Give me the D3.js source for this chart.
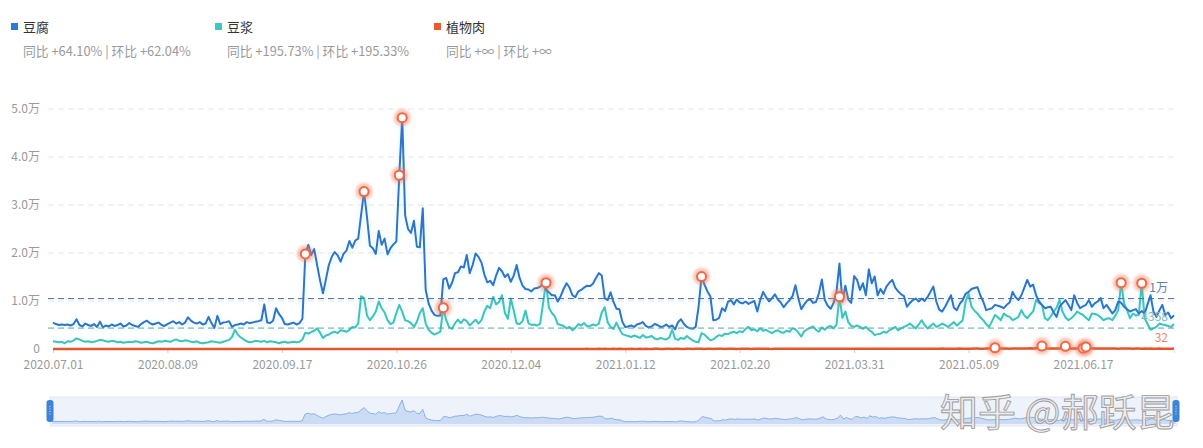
<!DOCTYPE html>
<html>
<head>
<meta charset="utf-8">
<script src="https://cdn.jsdelivr.net/npm/d3@7"></script>
<style>
  body { margin: 0; background: #fff; }
  svg { display: block; font-family: "Noto Sans CJK SC", "Noto Sans", sans-serif; }
</style>
</head>
<body>
<div id="chart"></div>
<script>
var startDate = '2020.07.01'

var tofu = [
  5500,5200,5000,5100,5000,5100,4900,5200,6200,5000,
  4700,5300,5000,4800,5200,4600,5700,4500,4900,4700,
  5100,4800,5000,5300,4700,4900,5400,5000,4800,4600,
  5200,5600,5900,5400,5100,5300,5500,5000,4800,5200,
  5500,5800,5300,5600,5100,5500,6600,5900,5500,5300,
  5600,5100,5300,6700,5400,4400,6900,5200,5500,5600,
  5800,4600,5000,5100,5300,5100,5600,5400,5500,5700,
  5800,6000,9300,5500,5400,5900,8500,7300,6500,5200,
  5100,5300,5500,5100,5400,6300,19800,21700,19600,20800,
  17500,14300,11600,14500,17500,19200,20200,19500,18200,19800,
  20500,22500,21100,22600,23000,28000,32800,27500,21500,21000,
  19800,24600,21700,23000,19700,21000,21800,22400,36200,48200,
  27800,25000,24200,26700,21300,21200,29300,12300,9500,8000,
  7100,6900,7000,14500,14800,12600,13800,15800,16000,17200,
  17000,19600,15800,17500,19900,19200,18000,15500,13900,14200,
  13300,15300,16900,16200,15000,15600,14000,15300,17500,14800,
  13200,12500,12400,12000,12600,12700,13000,13600,12400,11800,
  11200,11200,9900,11000,12500,13700,12800,11200,10800,12000,
  12300,12800,13200,13100,13600,14800,15800,15300,10600,10200,
  11800,9800,8400,8300,5700,4600,4700,4900,4600,5100,
  5300,5600,4800,4500,4700,5200,5000,4600,4700,5100,
  4600,4900,4100,5600,6200,5200,4600,4300,4200,4600,
  8800,15100,13400,12000,11000,6000,6100,6500,8500,7900,
  9800,10200,9300,10300,9700,9500,9900,9400,9700,10000,
  7800,10200,11900,10800,9900,10600,11400,10300,9700,8700,
  9500,10200,11000,13300,10500,8300,9300,10100,10400,9600,
  9800,11600,14500,10200,9000,8400,9600,12000,17800,9900,
  13200,10300,9600,15200,14400,12300,13700,11200,16600,13700,
  15100,11200,12500,11500,13000,13800,14400,12800,12000,11400,
  11000,8800,9600,10200,10500,9900,10500,10000,10800,11900,
  13000,9900,8200,7800,8800,10000,11200,8600,8100,9400,
  10200,11500,11900,12500,12700,12900,11200,9900,8100,8300,
  8500,9200,9000,8800,8500,9200,9700,11900,10800,10200,
  11200,12800,14400,13000,13400,11200,9900,9200,8500,8700,
  8800,7600,6700,8800,9500,10200,9200,8100,11200,9600,
  8500,8900,9200,10200,8800,9500,9900,10600,8500,9200,
  8300,7400,8100,9900,9600,8800,8300,7800,8100,8300,
  7400,7900,7400,9300,11200,7800,6700,8000,9200,7100,
  7600,6400,7000
]

var soyMilk = [
  1600,1500,1400,1500,1200,1600,1500,1800,2200,2000,
  1700,1500,1600,1400,1500,1700,1900,1800,1600,1500,
  1700,1600,1400,1500,1300,1400,1500,1400,1600,1500,
  1300,1400,1500,1300,1200,1400,1600,1500,1700,1600,
  1500,1800,2000,1700,1600,1800,1700,1500,1400,1600,
  1300,1200,1300,1400,1600,1500,1400,1300,1500,1700,
  1900,2500,4000,3000,2400,2000,1600,1400,1500,1700,
  1600,1500,1700,1400,1600,1500,1400,1200,1400,1500,
  1300,1400,1500,1400,1500,2000,3400,3200,3500,3800,
  4300,3400,2300,2800,3000,3400,3600,3300,3900,3800,
  3600,4000,4600,4500,5300,11000,10600,7000,6000,6800,
  7800,9900,8500,7600,6000,5200,5500,7500,9200,7800,
  6000,5800,5400,4600,5700,7500,8500,5300,4000,3400,
  3000,3300,3600,8600,6000,4500,4200,5400,6100,5400,
  6200,5800,4900,5500,6100,5300,6000,7800,9000,8500,
  10900,9300,9800,11200,7500,6300,10500,8000,5300,5200,
  5800,8000,5400,5000,5100,4900,5300,9500,13800,8600,
  7500,6800,5200,5000,4800,4300,4600,3900,4400,5200,
  4900,5400,4700,4800,5100,4900,5300,7600,8700,5600,
  4600,4200,5500,4200,3100,2900,2700,2500,2800,2600,
  2300,2900,2400,2500,2700,2200,2000,2300,2100,2000,
  2400,4000,2100,1900,2300,2100,2700,2200,1800,1500,
  1400,3300,3000,2400,1800,2000,2500,2900,2700,3200,
  3100,3400,3600,3300,3700,3500,4200,4600,3900,4100,
  3700,4300,3800,4000,3600,3300,3700,3900,3500,3400,
  3800,3600,4300,4100,3400,2600,3700,4100,4400,4700,
  4000,3600,4500,4000,4600,4800,4300,5100,10900,6500,
  7800,5600,4800,4600,4900,4600,4200,4600,4000,3600,
  2900,3100,3200,3600,3400,3900,4200,4600,3900,4300,
  4600,4900,5300,4800,4300,5100,6000,5000,4300,4800,
  5300,4600,4900,5300,5000,4600,5100,5600,4900,5400,
  6000,9900,11500,8800,8000,7400,6600,6000,5200,4600,
  5800,7100,6600,6000,7400,6900,6700,6000,6300,6700,
  8100,7000,6400,7200,7800,10200,9600,9200,6400,6000,
  6800,7800,8600,10200,7800,6600,6000,6400,7000,7800,
  7400,7100,6500,6000,7400,7300,7100,6600,6000,6300,
  6400,6000,7000,8100,13800,9500,8100,6400,7400,7000,
  7100,13700,6400,5200,4000,4300,4600,5300,5100,5000,
  4800,4600,5200
]

var plantMeat = [
  0,0,0,0,0,0,0,0,0,0, 0,0,0,0,0,0,0,0,0,0,
  0,0,0,0,0,0,0,0,0,0, 0,0,0,0,0,0,0,0,0,0,
  0,0,0,0,0,0,0,0,0,0, 0,0,0,0,0,0,0,0,0,0,
  0,0,0,0,0,0,0,0,0,0, 0,0,0,0,0,0,0,0,0,0,
  0,0,0,0,0,0,0,0,0,0, 0,0,0,0,0,0,0,0,0,0,
  0,0,0,0,0,0,0,0,0,0, 0,0,0,0,0,0,0,0,0,0,
  0,0,0,0,0,0,0,0,0,0, 0,0,0,0,0,0,0,0,0,0,
  0,0,0,0,0,0,0,0,0,0, 0,0,0,0,0,0,0,0,0,0,
  0,0,0,0,0,0,0,0,0,0, 0,0,0,0,0,0,0,0,0,0,
  20,0,30,10,0,20,40,10,30,20,
  10,30,20,40,10,0,20,30,10,20,
  30,20,40,10,20,30,50,20,10,30,
  40,20,30,50,20,10,30,40,20,30,
  50,30,20,40,30,20,50,40,30,20,
  40,30,50,20,30,60,40,30,20,40,
  50,30,40,60,30,20,40,50,30,40,
  60,40,30,50,40,30,60,50,40,30,
  50,40,60,30,40,50,70,40,30,50,
  60,40,50,30,40,60,50,40,70,50,
  40,60,50,30,50,70,40,60,50,40,
  60,50,40,70,50,60,40,50,70,60,
  50,40,60,80,50,60,70,50,60,80,
  60,50,70,60,80,90,70,60,80,100,
  120,260,110,90,80,100,70,90,110,80,
  90,100,120,140,130,150,160,620,180,120,
  110,90,100,120,140,560,120,100,90,110,
  130,180,420,140,100,90,80,100,110,90,
  80,100,90,70,80,90,100,80,70,90,
  80,70,90,60,80,70,60,80,70,60,
  70,60,80
]

var seriesNames = ['豆腐', '豆浆', '植物肉']
var yoyText = ['+64.10%', '+195.73%', '+∞']
var momText = ['+62.04%', '+195.33%', '+∞']
var avgValues = [10500, 4358, 32]
var avgLabels = ['1万', '4358', '32']
var tofuMarks = ['2020.09.25', '2020.10.15', '2020.10.27', '2020.10.28', '2021.02.07']
var soyMarks = ['2020.11.11', '2020.12.16', '2021.03.26', '2021.06.30', '2021.07.07']
var meatMarks = ['2021.05.18', '2021.06.03', '2021.06.11', '2021.06.17', '2021.06.18']
var yTicks = [0, 10000, 20000, 30000, 40000, 50000]
var xLabelEvery = 39

var colors = ['#2f74c9', '#3ec3bb', '#e6562d']
var legendColors = ['#2d7bd4', '#3fc6c3', '#ea5a2f']
var avgColors = ['#40709f', '#5fa5a1', '#e6562d']
var avgTextColors = ['#5a7fa6', '#8ab7b4', '#e8866a']

var W = 1203, H = 448
var parse = d3.timeParse('%Y.%m.%d')
var fmt = d3.timeFormat('%Y.%m.%d')
var start = parse(startDate)
var dates = tofu.map(function (d, i) { return d3.timeDay.offset(start, i) })
var series = [tofu, soyMilk, plantMeat]

var svg = d3.select('#chart').append('svg').attr('width', W).attr('height', H)

var x = d3.scaleTime().domain([dates[0], dates[dates.length - 1]]).range([53, 1174])
var y = d3.scaleLinear().domain([0, 50000]).range([349, 109])

// legend
var legendX = [11, 215, 434]
seriesNames.forEach(function (name, i) {
  var g = svg.append('g').attr('transform', 'translate(' + legendX[i] + ',0)')
  g.append('rect').attr('x', 0).attr('y', 23).attr('width', 7).attr('height', 7).attr('fill', legendColors[i])
  g.append('text').attr('x', 12).attr('y', 32).attr('font-size', 13).attr('fill', '#333').text(name)
  g.append('text').attr('x', 12).attr('y', 56).attr('font-size', 12.8).attr('fill', '#9a9a9a')
    .text('同比 ' + yoyText[i] + ' | 环比 ' + momText[i])
})

// grid
svg.append('g').selectAll('line').data(yTicks.filter(function (d) { return d > 0 }))
  .enter().append('line')
  .attr('x1', 48).attr('x2', 1175)
  .attr('y1', function (d) { return y(d) }).attr('y2', function (d) { return y(d) })
  .attr('stroke', '#e6e6e6').attr('stroke-dasharray', '6,4')

var yAxis = svg.append('g').attr('transform', 'translate(44,0)')
  .call(d3.axisLeft(y).tickValues(yTicks).tickSize(0).tickPadding(4)
    .tickFormat(function (d) { return d === 0 ? '0' : (d / 10000).toFixed(1) + '万' }))
yAxis.select('.domain').remove()
yAxis.selectAll('text').attr('fill', '#999').attr('font-size', 12)
  .attr('font-family', '"Noto Sans CJK SC", sans-serif')

var xAxis = svg.append('g').attr('transform', 'translate(0,349)')
  .call(d3.axisBottom(x)
    .tickValues(dates.filter(function (d, i) { return i % xLabelEvery === 0 }))
    .tickFormat(fmt).tickSize(4).tickPadding(7))
xAxis.select('.domain').attr('stroke', '#ddd')
xAxis.selectAll('line').attr('stroke', '#ccc')
xAxis.selectAll('text').attr('fill', '#999').attr('font-size', 12)
  .attr('font-family', '"Noto Sans CJK SC", sans-serif')

// lines
var line = d3.line()
  .x(function (d, i) { return x(dates[i]) })
  .y(function (d) { return y(d) })

var defs = svg.append('defs')
defs.append('filter').attr('id', 'glow').attr('x', '-5%').attr('y', '-20%').attr('width', '110%').attr('height', '140%')
  .append('feDropShadow').attr('dx', 0).attr('dy', 2).attr('stdDeviation', 3)
  .attr('flood-color', '#7fd6f0').attr('flood-opacity', 0.35)
defs.append('filter').attr('id', 'halo').attr('x', '-100%').attr('y', '-100%').attr('width', '300%').attr('height', '300%')
  .append('feGaussianBlur').attr('stdDeviation', 1.6)

;[1, 0, 2].forEach(function (i) {
  svg.append('path')
    .attr('d', line(series[i]))
    .attr('fill', 'none')
    .attr('stroke', colors[i])
    .attr('stroke-width', i === 2 ? 2.5 : 2)
    .attr('stroke-linejoin', 'round')
    .attr('filter', i === 2 ? null : 'url(#glow)')
})

// average lines
avgValues.forEach(function (v, i) {
  if (i < 2) {
    svg.append('line')
      .attr('x1', 48).attr('x2', 1175).attr('y1', y(v)).attr('y2', y(v))
      .attr('stroke', avgColors[i]).attr('stroke-width', 1).attr('stroke-dasharray', '6,4')
  }
  svg.append('text')
    .attr('x', 1168).attr('y', y(v) - 7)
    .attr('text-anchor', 'end').attr('font-size', 12)
    .attr('fill', avgTextColors[i])
    .text(avgLabels[i])
})

// event markers
var marks = []
;[tofuMarks, soyMarks, meatMarks].forEach(function (list, s) {
  list.forEach(function (ds) {
    var idx = d3.timeDay.count(start, parse(ds))
    marks.push({ x: x(dates[idx]), y: y(series[s][idx]) })
  })
})
var mk = svg.append('g').selectAll('g').data(marks).enter().append('g')
  .attr('transform', function (d) { return 'translate(' + d.x + ',' + d.y + ')' })
mk.append('circle').attr('r', 8.5).attr('fill', '#f07a5c').attr('opacity', 0.45).attr('filter', 'url(#halo)')
mk.append('circle').attr('r', 4.5).attr('fill', '#fff').attr('stroke', '#ec6a45').attr('stroke-width', 2)

// data zoom slider
var sx = d3.scaleTime().domain(x.domain()).range([52, 1176])
var sy = d3.scaleLinear().domain([0, d3.max(tofu)]).range([424, 400])
svg.append('rect').attr('x', 50).attr('y', 397).attr('width', 1127).attr('height', 29)
  .attr('fill', '#edf2fb').attr('stroke', '#e1e8f4')
var area = d3.area()
  .x(function (d, i) { return sx(dates[i]) })
  .y0(424).y1(function (d) { return sy(d) })
svg.append('path').attr('d', area(tofu)).attr('fill', '#c7d9f3').attr('opacity', 0.9)
svg.append('path').attr('d', d3.line()
  .x(function (d, i) { return sx(dates[i]) })
  .y(function (d) { return sy(d) })(tofu))
  .attr('fill', 'none').attr('stroke', '#8db0e2').attr('stroke-width', 1)
;[50, 1176].forEach(function (hx) {
  svg.append('rect').attr('x', hx - 3.5).attr('y', 400).attr('width', 7).attr('height', 22).attr('rx', 3)
    .attr('fill', '#3b84d8')
  svg.append('line').attr('x1', hx).attr('x2', hx).attr('y1', 406).attr('y2', 416)
    .attr('stroke', '#d6e6fa').attr('stroke-width', 1).attr('stroke-dasharray', '1,1.5')
})

// watermark
svg.append('text')
  .attr('x', 940).attr('y', 426)
  .attr('font-size', 38)
  .attr('fill', '#ececec').attr('stroke', '#9c9c9c').attr('stroke-width', 0.9)
  .attr('font-family', '"Noto Sans CJK SC", sans-serif')
  .text('知乎 @郝跃昆')
</script>
</body>
</html>
